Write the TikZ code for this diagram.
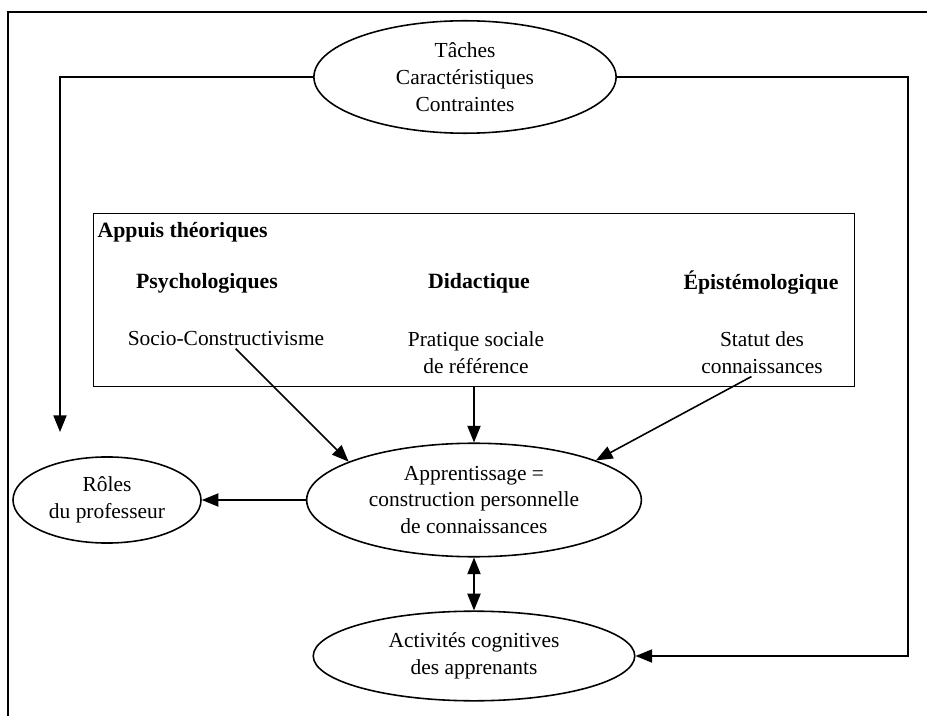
\documentclass[tikz,border=0pt]{standalone}
\usepackage{fontspec}
\setmainfont{Liberation Serif}
\usetikzlibrary{shapes.geometric,arrows.meta}

\begin{document}
\begin{tikzpicture}[x=0.02cm,y=-0.02cm,line width=0.9pt,
  font=\fontsize{12.2}{15.3}\selectfont,
  >={Triangle[length=9.5pt,width=7.5pt]},
  bubble/.style={draw,ellipse,inner sep=0pt,align=center},
  txt/.style={align=center,inner sep=1pt},
  head/.style={inner sep=1pt,font=\fontsize{12.4}{15.3}\selectfont\bfseries}]
\useasboundingbox (0,0) rectangle (927,716);
% outer frame (cut at right and bottom)
\draw (8,716) -- (8,12) -- (927,12);

\node [bubble,minimum width=172pt,minimum height=64pt] (task) at (465,77) {Tâches\\Caractéristiques\\Contraintes};

% theory box
\node [draw,minimum width=433pt,minimum height=98.7pt] (theory) at (474,300) {};
\node [head,anchor=west] (title) at (95,232) {Appuis théoriques};
\node [head] (psycho) at (207,283) {Psychologiques};
\node [head] (didac) at (479,283) {Didactique};
\node [head] (episte) at (761,283) {Épistémologique};
\node [txt] (socio) at (226,339) {Socio-Constructivisme};
\node [txt] (pratique) at (476,353) {Pratique sociale\\de référence};
\node [txt] (statut) at (762,353) {Statut des\\connaissances};

\node [bubble,minimum width=190.5pt,minimum height=64.6pt] (learn) at (474,500) {Apprentissage =\\construction personnelle\\de connaissances};
\node [bubble,minimum width=107pt,minimum height=49pt] (roles) at (107,500) {Rôles\\du professeur};
\node [bubble,minimum width=183pt,minimum height=51pt] (act) at (474,656) {Activités cognitives\\des apprenants};

\coordinate (roletip) at (60,432);
\coordinate (rcorner) at (908,77);

\draw[->] (task.west) -| (roletip);
\draw[->] (task.east) -- (rcorner) |- (act.east);
\draw[->] (socio) -- (learn.163);
\draw[->] ([xshift=-6pt]statut.south) -- (learn.18);
\draw[->] (theory.south -| learn.north) -- (learn.north);
\draw[->] (learn.west) -- (roles.east);
\draw[<->] (learn.south) -- (act.north);
\end{tikzpicture}
\end{document}
